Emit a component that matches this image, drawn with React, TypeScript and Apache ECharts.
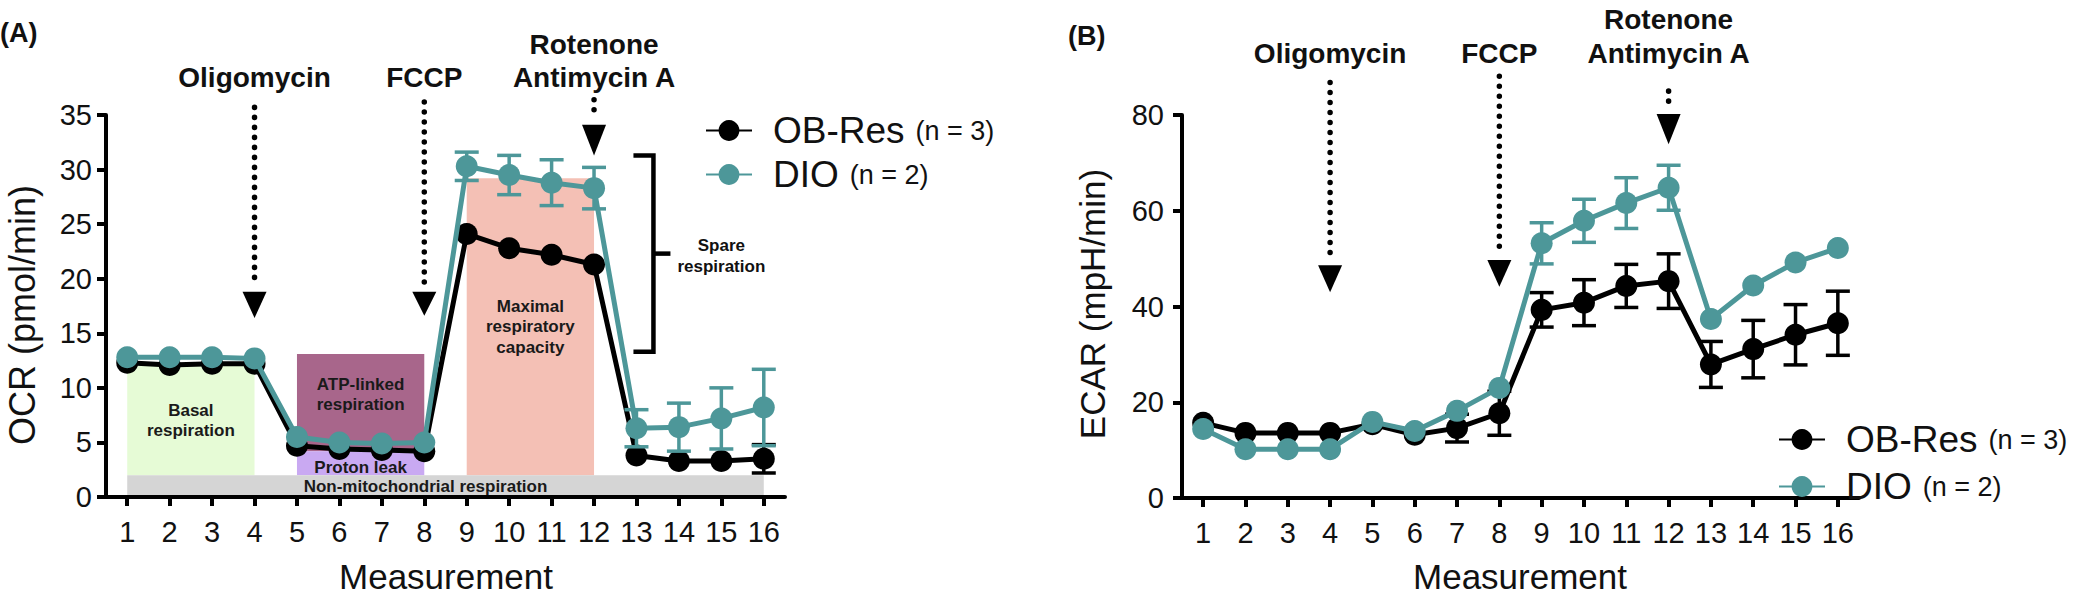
import { useEffect, useRef } from "react";
import * as echarts from "echarts";

const FONT = '"Liberation Sans", Arial, Helvetica, sans-serif';

// ---------- data ----------
const measurements = [1, 2, 3, 4, 5, 6, 7, 8, 9, 10, 11, 12, 13, 14, 15, 16];

const ocrObRes = [12.3, 12.1, 12.2, 12.2, 4.7, 4.4, 4.3, 4.2, 24.1, 22.8, 22.2, 21.3, 3.8, 3.3, 3.3, 3.5];
const ocrObResErr = [0, 0, 0, 0, 0, 0, 0, 0, 0, 0, 0, 0, 0, 0, 0, 1.3];
const ocrDio = [12.8, 12.8, 12.8, 12.7, 5.5, 5.0, 4.9, 5.0, 30.3, 29.5, 28.8, 28.3, 6.3, 6.4, 7.2, 8.2];
const ocrDioErr = [0, 0, 0, 0, 0, 0, 0, 0, 1.3, 1.8, 2.1, 1.9, 1.7, 2.2, 2.8, 3.5];

const ecarObRes = [15.7, 13.6, 13.6, 13.6, 15.4, 13.2, 14.6, 17.7, 39.3, 40.8, 44.3, 45.3, 27.9, 31.1, 34.1, 36.5];
const ecarObResErr = [0, 0, 0, 0, 0, 0, 2.9, 4.6, 3.6, 4.8, 4.5, 5.7, 4.8, 6.0, 6.3, 6.7];
const ecarDio = [14.4, 10.2, 10.2, 10.2, 15.9, 14.0, 18.2, 23.0, 53.2, 57.9, 61.6, 64.8, 37.4, 44.4, 49.2, 52.2];
const ecarDioErr = [0, 0, 0, 0, 0, 0, 0, 0, 4.3, 4.5, 5.3, 4.7, 0, 0, 0, 0];

const ocrTicks = [0, 5, 10, 15, 20, 25, 30, 35];
const ecarTicks = [0, 20, 40, 60, 80];

// OCR shaded regions (measurement range, OCR range)
const regionLabels = [
  "Basal\nrespiration",
  "ATP-linked\nrespiration",
  "Proton leak",
  "Maximal\nrespiratory\ncapacity",
  "Non-mitochondrial respiration",
];
const regionFrom = [1, 5, 5, 9, 1];
const regionTo = [4, 8, 8, 12, 16];
const regionLow = [2, 4.2, 2, 2, 0];
const regionHigh = [12, 13.1, 4.2, 29.2, 2];

// injections
const drugLabels = ["Oligomycin", "FCCP", "Rotenone\nAntimycin A"];
const drugAt = [4, 8, 12];
const ocrArrowTop = [35.7, 36.2, 36.4];
const ocrArrowHead = [18.8, 18.8, 34.1];
const ocrArrowTip = [16.4, 16.6, 31.3];
const ocrDrugLabelY = 38.4;
const ecarArrowTop = [86.8, 88.1, 85.0];
const ecarArrowHead = [48.6, 49.7, 80.2];
const ecarArrowTip = [43.0, 44.1, 73.9];
const ecarDrugLabelY = 92.9;

// spare respiration bracket (measurement position, OCR range)
const spareAt = 13.4;
const spareTop = 31.3;
const spareBottom = 13.3;
const spareLabel = "Spare\nrespiration";
const spareLabelAt = [15.0, 22.1];

const groupNames = ["OB-Res", "DIO"];
const groupN = [3, 2];

// ---------- styles ----------
const TEAL = "#4d9799";
const BLACK = "#000000";
const regionColors = ["#e6fbd6", "#a8668b", "#c9a9f2", "#f4c0b5", "#d5d5d5"];
const regionLabelShift = [
  [0, 0],
  [0, -8],
  [0, 4],
  [0, 0],
  [-20, 0],
];

function lineSeries(name: string, grid: number, values: number[], color: string, z: number) {
  return {
    type: "line",
    name,
    xAxisIndex: grid,
    yAxisIndex: grid,
    data: measurements.map((m, i) => [m, values[i]]),
    symbol: "circle",
    symbolSize: 22,
    lineStyle: { color, width: 5 },
    itemStyle: { color },
    z,
    silent: true,
    clip: false,
  };
}

function errorSeries(grid: number, values: number[], errs: number[], color: string, z: number) {
  const data = measurements
    .map((m, i) => [m, values[i] - errs[i], values[i] + errs[i], errs[i]])
    .filter((d) => d[3] > 0);
  return {
    type: "custom",
    xAxisIndex: grid,
    yAxisIndex: grid,
    z,
    silent: true,
    data,
    renderItem: (_p: any, api: any) => {
      const x = api.value(0);
      const lo = api.coord([x, api.value(1)]);
      const hi = api.coord([x, api.value(2)]);
      const hw = 12;
      const st = { stroke: color, lineWidth: 3.5 };
      return {
        type: "group",
        children: [
          { type: "line", shape: { x1: lo[0], y1: lo[1], x2: hi[0], y2: hi[1] }, style: st },
          { type: "line", shape: { x1: lo[0] - hw, y1: lo[1], x2: lo[0] + hw, y2: lo[1] }, style: st },
          { type: "line", shape: { x1: hi[0] - hw, y1: hi[1], x2: hi[0] + hw, y2: hi[1] }, style: st },
        ],
      };
    },
  };
}

function arrowSeries(grid: number, tops: number[], heads: number[], tips: number[], labelY: number) {
  return {
    type: "custom",
    xAxisIndex: grid,
    yAxisIndex: grid,
    z: 1,
    silent: true,
    clip: false,
    data: drugAt.map((x, i) => [x, tops[i], heads[i], tips[i]]),
    renderItem: (p: any, api: any) => {
      const i = p.dataIndex;
      const x = api.value(0);
      const top = api.coord([x, api.value(1)]);
      const head = api.coord([x, api.value(2)]);
      const tip = api.coord([x, api.value(3)]);
      const lab = api.coord([x, labelY]);
      const lines = drugLabels[i].split("\n");
      const children: any[] = [
        {
          type: "line",
          shape: { x1: top[0], y1: top[1], x2: head[0], y2: head[1] - 6 },
          style: { stroke: "#000", lineWidth: 5.5, lineDash: [0.1, 9.9], lineCap: "round" },
        },
        {
          type: "polygon",
          shape: {
            points: [
              [head[0] - 12, head[1]],
              [head[0] + 12, head[1]],
              [tip[0], tip[1]],
            ],
          },
          style: { fill: "#000" },
        },
      ];
      lines.forEach((t, j) => {
        children.push({
          type: "text",
          x: lab[0],
          y: lab[1] - (lines.length - 1 - j) * 33.5,
          style: {
            text: t,
            fill: "#111",
            fontSize: 28,
            fontWeight: "bold",
            fontFamily: FONT,
            align: "center",
            verticalAlign: "middle",
          },
        });
      });
      return { type: "group", children };
    },
  };
}

const regionSeries = {
  type: "custom",
  xAxisIndex: 0,
  yAxisIndex: 0,
  z: 0,
  silent: true,
  data: regionFrom.map((f, i) => [f, regionTo[i], regionLow[i], regionHigh[i]]),
  renderItem: (p: any, api: any) => {
    const i = p.dataIndex;
    const a = api.coord([api.value(0), api.value(3)]);
    const b = api.coord([api.value(1), api.value(2)]);
    const cx = (a[0] + b[0]) / 2 + regionLabelShift[i][0];
    const cy = (a[1] + b[1]) / 2 + regionLabelShift[i][1];
    return {
      type: "group",
      children: [
        { type: "rect", shape: { x: a[0], y: a[1], width: b[0] - a[0], height: b[1] - a[1] }, style: { fill: regionColors[i] } },
        {
          type: "text",
          x: cx,
          y: cy,
          style: {
            text: regionLabels[i],
            fill: "#1a1a1a",
            fontSize: 17,
            fontWeight: "bold",
            fontFamily: FONT,
            align: "center",
            verticalAlign: "middle",
            lineHeight: 20.5,
          },
        },
      ],
    };
  },
};

const spareSeries = {
  type: "custom",
  xAxisIndex: 0,
  yAxisIndex: 0,
  z: 1,
  silent: true,
  clip: false,
  data: [[spareAt, spareTop, spareBottom, spareLabelAt[0], spareLabelAt[1]]],
  renderItem: (_p: any, api: any) => {
    const t = api.coord([api.value(0), api.value(1)]);
    const b = api.coord([api.value(0), api.value(2)]);
    const lab = api.coord([api.value(3), api.value(4)]);
    const my = (t[1] + b[1]) / 2;
    const st = { stroke: "#000", lineWidth: 4.5, fill: "none" };
    return {
      type: "group",
      children: [
        {
          type: "polyline",
          shape: { points: [[t[0] - 20, t[1]], [t[0], t[1]], [b[0], b[1]], [b[0] - 20, b[1]]] },
          style: st,
        },
        { type: "line", shape: { x1: t[0], y1: my, x2: t[0] + 17, y2: my }, style: st },
        {
          type: "text",
          x: lab[0],
          y: lab[1],
          style: {
            text: spareLabel,
            fill: "#111",
            fontSize: 17,
            fontWeight: "bold",
            fontFamily: FONT,
            align: "center",
            verticalAlign: "middle",
            lineHeight: 20.5,
          },
        },
      ],
    };
  },
};

function xAxis(grid: number) {
  return {
    type: "value",
    gridIndex: grid,
    min: 0.5,
    max: 16.5,
    axisLine: { show: true, lineStyle: { color: "#000", width: 4 } },
    axisTick: { show: true, customValues: measurements, length: 9, lineStyle: { color: "#000", width: 4 } },
    axisLabel: { customValues: measurements, fontSize: 29, color: "#111", margin: 20, fontFamily: FONT },
    splitLine: { show: false },
  };
}

function yAxis(grid: number, ticks: number[], margin: number) {
  return {
    type: "value",
    gridIndex: grid,
    min: ticks[0],
    max: ticks[ticks.length - 1],
    interval: ticks[1] - ticks[0],
    axisLine: { show: true, lineStyle: { color: "#000", width: 4 } },
    axisTick: { show: true, length: 9, lineStyle: { color: "#000", width: 4 } },
    axisLabel: { fontSize: 29, color: "#111", margin, fontFamily: FONT },
    splitLine: { show: false },
  };
}

function legend(left: number, top: number, gap: number) {
  return {
    orient: "vertical",
    left,
    top,
    itemWidth: 46,
    itemHeight: 26,
    itemGap: gap,
    selectedMode: false,
    data: groupNames,
    formatter: (name: string) => `{a|${name}}{b|(n = ${groupN[groupNames.indexOf(name)]})}`,
    textStyle: {
      padding: [0, 0, 0, 16],
      rich: {
        a: { fontSize: 37, color: "#111", fontFamily: FONT, lineHeight: 42 },
        b: { fontSize: 27, color: "#111", fontFamily: FONT, lineHeight: 42, padding: [0, 0, 0, 11] },
      },
    },
  };
}

function textEl(text: string, x: number, y: number, size: number, bold: boolean, align: string, rotation = 0) {
  return {
    type: "text",
    x,
    y,
    rotation,
    style: {
      text,
      fill: "#111",
      fontSize: size,
      fontWeight: bold ? "bold" : "normal",
      fontFamily: FONT,
      align,
      verticalAlign: "middle",
    },
  };
}

export default function App() {
  const ref = useRef<HTMLDivElement>(null);
  useEffect(() => {
    document.body.style.margin = "0";
    const chart = echarts.init(ref.current!, undefined, { renderer: "svg" });
    chart.setOption({
      animation: false,
      backgroundColor: "#ffffff",
      textStyle: { fontFamily: FONT },
      grid: [
        { left: 106, top: 115, width: 679, height: 382 },
        { left: 1182, top: 115, width: 677, height: 383 },
      ],
      xAxis: [xAxis(0), xAxis(1)],
      yAxis: [yAxis(0, ocrTicks, 14), yAxis(1, ecarTicks, 18)],
      legend: [legend(700, 107, 7), legend(1773, 416, 10)],
      graphic: [
        textEl("(A)", 0, 33, 27, true, "left"),
        textEl("(B)", 1068, 36, 27, true, "left"),
        textEl("Measurement", 446, 576, 35, false, "center"),
        textEl("Measurement", 1520, 576, 35, false, "center"),
        textEl("OCR (pmol/min)", 22, 315, 36, false, "center", Math.PI / 2),
        textEl("ECAR (mpH/min)", 1092, 304, 35, false, "center", Math.PI / 2),
      ],
      series: [
        regionSeries,
        arrowSeries(0, ocrArrowTop, ocrArrowHead, ocrArrowTip, ocrDrugLabelY),
        spareSeries,
        errorSeries(0, ocrObRes, ocrObResErr, BLACK, 2),
        lineSeries(groupNames[0], 0, ocrObRes, BLACK, 3),
        errorSeries(0, ocrDio, ocrDioErr, TEAL, 4),
        lineSeries(groupNames[1], 0, ocrDio, TEAL, 5),
        arrowSeries(1, ecarArrowTop, ecarArrowHead, ecarArrowTip, ecarDrugLabelY),
        errorSeries(1, ecarObRes, ecarObResErr, BLACK, 2),
        lineSeries(groupNames[0], 1, ecarObRes, BLACK, 3),
        errorSeries(1, ecarDio, ecarDioErr, TEAL, 4),
        lineSeries(groupNames[1], 1, ecarDio, TEAL, 5),
      ],
    });
    return () => chart.dispose();
  }, []);
  return <div ref={ref} style={{ width: 2080, height: 596 }} />;
}
